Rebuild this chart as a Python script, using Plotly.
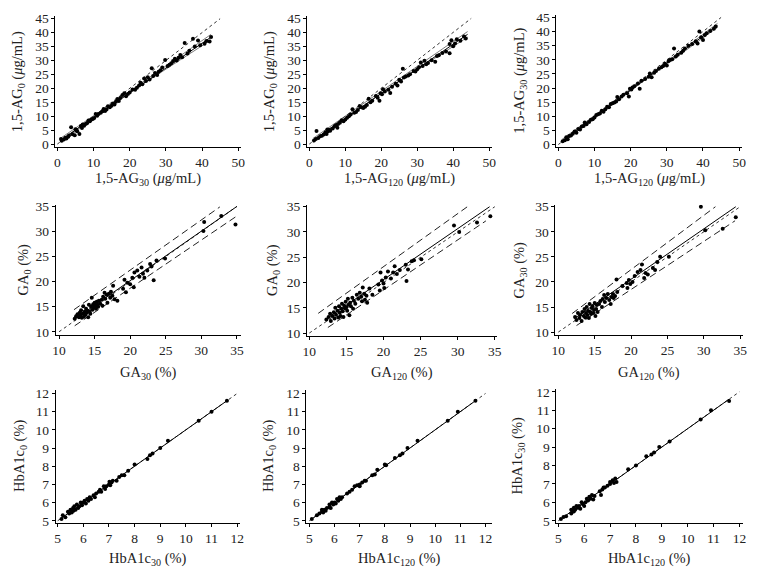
import plotly.graph_objects as go

# ---------------- data ----------------
# Row 1: 1,5-AG (ug/mL)
ag30_vs_ag0_x = [1.0,1.2,1.8,2.2,2.5,3.0,3.2,3.8,4.2,5.0,4.8,5.2,5.5,6.1,6.5,6.8,7.0,7.4,7.8,8.2,8.6,9.0,9.4,9.8,10.2,10.6,11.0,11.4,12.0,12.5,12.8,13.2,13.6,14.0,14.5,15.0,15.4,15.8,16.2,16.6,17.0,17.4,18.0,18.5,19.0,19.5,20.0,20.8,21.5,22.0,22.6,23.0,23.5,24.0,24.5,25.0,25.5,26.1,26.5,27.0,27.6,28.0,28.5,29.0,29.8,30.5,31.0,31.5,32.0,32.5,33.0,33.5,34.0,34.5,35.2,36.0,36.5,37.5,38.0,38.9,39.5,40.7,41.2,42.1,42.5]
ag30_vs_ag0_y = [1.8,1.2,1.6,2.3,2.0,2.6,3.1,6.0,3.5,5.3,3.2,4.9,4.6,3.6,6.5,5.8,7.0,6.6,7.2,7.5,8.5,8.2,8.8,9.0,9.4,10.8,10.2,10.8,11.2,11.8,12.6,11.9,12.4,13.6,13.2,13.8,14.6,14.2,15.2,16.2,15.5,16.5,17.6,18.2,17.2,18.0,18.5,19.6,19.5,20.2,21.0,22.0,21.5,23.5,22.6,24.0,23.2,27.2,24.4,25.5,24.8,26.0,26.5,27.5,30.2,28.0,28.5,29.0,29.8,30.6,30.0,31.0,32.0,31.2,36.3,32.5,33.5,37.8,35.0,37.2,35.5,36.0,37.0,36.8,38.4]
ag120_vs_ag0_x = [1.3,1.8,2.0,2.5,3.0,3.5,4.0,4.5,4.8,5.0,5.2,5.5,5.8,6.5,7.0,7.5,7.8,8.0,8.5,9.0,9.5,10.0,10.5,11.0,11.5,12.0,12.5,13.0,13.5,14.0,14.5,15.0,15.5,16.0,16.5,17.0,17.5,18.5,19.0,19.5,19.8,20.2,20.5,21.0,22.0,22.5,23.0,24.0,24.5,25.0,25.5,26.0,26.3,26.8,27.5,28.0,29.0,29.5,30.0,30.5,31.0,31.5,32.0,32.5,33.0,34.0,35.0,35.5,36.0,37.0,38.0,39.0,39.0,39.5,40.0,40.5,41.0,42.0,43.0,43.5]
ag120_vs_ag0_y = [1.3,1.8,4.7,2.2,2.8,3.0,3.4,4.2,3.6,5.2,4.6,5.0,4.8,5.6,6.4,6.8,5.8,7.2,7.6,8.5,8.2,8.8,9.4,10.0,10.6,12.5,11.2,11.5,12.2,13.6,13.2,12.9,13.4,14.0,16.2,15.0,15.5,17.2,16.6,15.5,18.2,17.8,19.6,18.8,19.5,18.3,20.5,21.6,21.0,23.0,22.4,27.0,23.8,24.2,24.6,25.0,26.2,26.0,26.8,27.5,29.2,28.0,29.8,28.6,29.0,30.0,29.5,31.5,31.8,32.6,33.2,32.5,35.8,37.2,35.0,36.0,37.5,37.0,38.5,37.8]
ag120_vs_ag30_x = [1.2,1.8,2.2,2.6,3.0,3.5,4.0,4.5,5.0,5.5,6.0,6.5,7.0,7.3,7.8,8.5,9.0,9.5,10.0,10.5,11.0,11.5,12.0,12.5,13.0,13.5,14.0,14.5,15.0,15.5,16.0,16.3,16.8,17.5,18.0,19.0,19.5,19.8,20.2,20.5,21.0,22.0,22.5,23.0,24.0,25.0,25.3,25.8,26.5,27.0,27.8,28.5,29.0,29.5,30.0,30.5,31.0,31.5,32.0,32.5,33.0,34.0,34.5,35.0,36.0,37.0,38.0,38.5,39.0,39.5,40.0,40.5,41.0,42.0,43.0,43.5]
ag120_vs_ag30_y = [1.2,1.5,2.6,1.9,3.0,3.2,3.8,4.6,4.2,5.5,5.3,6.4,6.6,7.8,7.2,8.0,8.8,9.0,9.6,10.5,10.7,11.0,12.0,11.6,12.5,13.4,13.2,14.4,14.6,14.9,15.2,16.8,16.0,17.0,17.6,18.2,17.0,19.8,19.5,20.2,20.6,21.6,19.8,22.6,23.2,24.0,25.2,23.8,25.4,26.0,26.8,27.4,27.8,28.6,28.0,29.6,30.0,30.2,34.0,31.2,31.8,32.5,33.2,34.0,35.0,35.6,36.6,35.8,40.0,38.0,37.0,38.8,39.4,40.2,41.0,41.8]

# Row 2: GA (%)
ga30_vs_ga0_x = [12.2,12.4,12.6,12.8,12.9,13.0,13.1,13.2,13.3,13.4,13.5,13.6,13.7,13.8,13.9,14.0,14.1,14.2,14.3,14.4,14.5,14.6,14.7,14.8,14.9,15.0,15.1,15.2,15.3,15.4,15.5,15.6,15.8,16.0,16.1,16.2,16.4,16.5,16.7,16.8,17.0,17.2,17.3,17.5,17.6,17.8,18.2,19.0,19.2,19.4,19.6,20.0,20.3,20.5,20.6,21.0,21.3,21.6,21.8,22.0,22.4,22.8,23.0,23.3,23.7,24.9,30.3,30.4,32.8,34.8]
ga30_vs_ga0_y = [12.6,13.1,13.5,12.9,13.8,13.2,14.3,12.8,13.6,15.1,13.0,14.0,13.4,14.6,13.8,14.2,12.9,15.4,14.0,13.6,15.0,16.8,14.4,15.5,14.8,15.8,15.2,14.6,16.0,15.4,15.0,16.2,15.6,16.4,15.2,17.0,17.8,16.6,17.4,15.8,17.6,16.8,18.0,17.2,19.2,16.5,16.2,18.6,20.4,17.9,19.8,19.5,20.8,18.9,21.8,22.2,21.0,22.8,21.6,20.8,22.2,23.5,23.0,20.3,24.2,24.6,30.1,31.9,33.1,31.4]
ga120_vs_ga0_x = [12.3,12.6,12.8,12.9,13.1,13.3,13.4,13.5,13.6,13.8,13.9,14.0,14.1,14.2,14.3,14.4,14.5,14.6,14.7,14.8,14.9,15.0,15.1,15.2,15.3,15.4,15.5,15.6,15.8,15.9,16.0,16.2,16.4,16.6,16.8,17.0,17.1,17.2,17.4,17.5,17.7,17.8,18.1,18.5,19.3,19.5,19.6,19.8,20.0,20.1,20.3,20.6,21.0,21.3,21.5,21.8,22.2,23.0,23.1,23.3,23.8,24.1,25.1,29.5,30.2,32.6,34.4]
ga120_vs_ga0_y = [12.7,13.2,13.8,12.4,13.4,14.1,12.9,15.0,13.6,14.4,13.1,15.3,14.0,13.4,14.8,15.8,14.3,13.2,15.4,14.9,16.2,15.1,14.4,16.8,15.6,13.5,16.0,15.3,17.0,14.8,16.4,15.8,17.6,16.8,18.0,17.2,16.3,19.0,17.8,16.6,17.4,16.0,18.8,17.6,19.6,18.4,22.0,20.4,19.8,18.9,21.0,22.2,20.8,22.0,23.2,21.7,22.5,23.5,20.3,22.6,24.2,24.4,24.6,31.3,30.0,31.9,33.1]
ga120_vs_ga30_x = [12.3,12.5,12.7,12.9,13.0,13.2,13.3,13.5,13.6,13.7,13.8,13.9,14.0,14.1,14.2,14.3,14.4,14.5,14.6,14.7,14.8,14.9,15.0,15.1,15.2,15.3,15.4,15.6,15.8,16.0,16.1,16.3,16.4,16.6,16.8,17.0,17.2,17.3,17.5,17.6,17.8,18.0,18.1,18.8,19.4,19.5,19.7,19.9,20.2,20.5,20.9,21.3,21.5,21.8,22.0,22.3,23.0,23.3,23.6,24.0,25.2,29.6,30.2,32.6,34.4]
ga120_vs_ga30_y = [13.0,12.4,13.8,12.8,13.4,12.2,14.0,13.2,14.6,12.9,13.8,15.0,13.4,14.2,12.8,15.6,14.0,13.6,14.8,15.2,13.8,14.4,15.8,13.2,14.6,15.4,14.0,15.6,16.2,15.0,16.6,17.4,16.0,16.8,17.6,16.4,15.6,17.0,17.6,16.8,17.2,20.5,18.0,19.2,19.8,18.8,20.4,19.6,20.0,21.2,22.0,22.4,23.5,20.8,21.8,21.5,22.8,22.4,24.0,25.0,25.0,35.0,30.3,30.6,32.9]

# Row 3: HbA1c (%)
hb30_vs_hb0_x = [5.15,5.2,5.3,5.4,5.45,5.5,5.55,5.6,5.62,5.65,5.7,5.75,5.8,5.85,5.9,5.95,6.0,6.05,6.1,6.15,6.2,6.25,6.3,6.4,6.45,6.5,6.6,6.65,6.7,6.8,6.85,6.9,7.0,7.02,7.05,7.1,7.15,7.3,7.4,7.5,7.6,7.75,8.0,8.5,8.6,8.7,9.0,9.3,10.5,11.0,11.6]
hb30_vs_hb0_y = [5.1,5.3,5.2,5.5,5.4,5.6,5.45,5.7,5.55,5.8,5.6,5.9,5.7,5.8,6.0,5.85,6.0,6.1,5.95,6.2,6.1,6.3,6.2,6.4,6.3,6.5,6.6,6.7,6.6,6.9,6.75,6.9,7.0,7.15,6.95,7.1,7.2,7.2,7.4,7.5,7.5,7.75,8.1,8.4,8.6,8.7,9.0,9.4,10.5,11.0,11.6]
hb120_vs_hb0_x = [5.1,5.3,5.4,5.5,5.5,5.55,5.6,5.65,5.7,5.8,5.8,5.85,5.9,5.95,6.0,6.05,6.1,6.15,6.2,6.25,6.3,6.5,6.6,6.7,6.8,6.9,7.0,7.0,7.1,7.2,7.25,7.5,7.6,7.7,8.0,8.05,8.4,8.6,8.7,8.9,9.3,10.5,10.9,11.6]
hb120_vs_hb0_y = [5.1,5.3,5.4,5.6,5.5,5.45,5.6,5.55,5.7,5.9,5.75,5.7,6.0,5.9,6.0,5.95,6.2,6.1,6.3,6.2,6.3,6.5,6.6,6.7,6.9,6.95,6.9,7.0,7.1,7.2,7.2,7.5,7.55,7.8,8.1,8.05,8.45,8.6,8.7,9.0,9.4,10.5,11.0,11.6]
hb120_vs_hb30_x = [5.1,5.2,5.3,5.5,5.5,5.55,5.6,5.6,5.65,5.7,5.75,5.8,5.85,5.9,5.95,6.0,6.05,6.1,6.15,6.2,6.25,6.3,6.35,6.4,6.6,6.65,6.7,6.75,6.8,6.9,7.0,7.0,7.1,7.15,7.2,7.25,7.7,8.0,8.4,8.6,8.7,8.9,9.3,10.5,10.9,11.6]
hb120_vs_hb30_y = [5.1,5.2,5.25,5.6,5.4,5.5,5.7,5.5,5.6,5.8,5.7,5.8,5.65,6.0,5.9,5.8,6.0,6.2,6.1,6.3,6.2,6.4,6.15,6.35,6.6,6.4,6.7,6.8,6.8,6.9,7.0,7.1,7.2,7.05,7.3,7.1,7.8,8.0,8.5,8.6,8.7,9.0,9.3,10.5,11.0,11.5]

# regression / reference lines (endpoints)
fit_x = [[1.0, 42.5], [1.0, 44.0], [1.0, 44.0],
         [12.2, 35.0], [12.1, 34.3], [12.2, 34.4],
         [5.1, 11.6], [5.1, 11.6], [5.1, 11.6]]
fit_y = [[1.5, 38.4], [1.3, 39.3], [1.2, 42.2],
         [12.5, 35.0], [12.6, 35.0], [12.7, 35.0],
         [5.1, 11.6], [5.1, 11.6], [5.1, 11.6]]
# confidence lines for row 1 (start, middle, end)
ci_x = [[1.0, 21.0, 42.5], [1.0, 22.0, 44.0], [1.0, 22.0, 44.0]]
ci_up_y = [[2.2, 19.9, 39.4], [2.0, 20.8, 40.3], [1.8, 21.6, 42.9]]
ci_lo_y = [[0.8, 19.3, 37.4], [0.6, 20.1, 38.3], [0.6, 21.0, 41.5]]
# prediction (dashed) lines for row 2
pi_up_x = [[12.1, 32.6], [11.2, 31.3], [11.9, 31.6]]
pi_up_y = [[14.4, 34.9], [13.9, 35.0], [13.7, 35.0]]
pi_lo_x = [[12.2, 34.9], [12.5, 33.8], [12.5, 34.3]]
pi_lo_y = [[11.2, 33.0], [11.1, 32.2], [11.3, 32.2]]
# identity lines
ident = [[0, 45], [0, 45], [0, 45], [10, 35], [10, 35], [10, 35], [5, 12], [5, 12], [5, 12]]

x_titles = ["1,5-AG<sub>30</sub> (<i>μ</i>g/mL)", "1,5-AG<sub>120</sub> (<i>μ</i>g/mL)", "1,5-AG<sub>120</sub> (<i>μ</i>g/mL)",
            "GA<sub>30</sub> (%)", "GA<sub>120</sub> (%)", "GA<sub>120</sub> (%)",
            "HbA1c<sub>30</sub> (%)", "HbA1c<sub>120</sub> (%)", "HbA1c<sub>120</sub> (%)"]
y_titles = ["1,5-AG<sub>0</sub> (<i>μ</i>g/mL)", "1,5-AG<sub>0</sub> (<i>μ</i>g/mL)", "1,5-AG<sub>30</sub> (<i>μ</i>g/mL)",
            "GA<sub>0</sub> (%)", "GA<sub>0</sub> (%)", "GA<sub>30</sub> (%)",
            "HbA1c<sub>0</sub> (%)", "HbA1c<sub>0</sub> (%)", "HbA1c<sub>30</sub> (%)"]

xs = [ag30_vs_ag0_x, ag120_vs_ag0_x, ag120_vs_ag30_x,
      ga30_vs_ga0_x, ga120_vs_ga0_x, ga120_vs_ga30_x,
      hb30_vs_hb0_x, hb120_vs_hb0_x, hb120_vs_hb30_x]
ys = [ag30_vs_ag0_y, ag120_vs_ag0_y, ag120_vs_ag30_y,
      ga30_vs_ga0_y, ga120_vs_ga0_y, ga120_vs_ga30_y,
      hb30_vs_hb0_y, hb120_vs_hb0_y, hb120_vs_hb30_y]

# ---------------- layout geometry (pixels) ----------------
W, H = 757, 577
# per panel: x calib (v1,p1,v2,p2), x axis px (left,right); y calib (v1,p1,v2,p2), y axis px (bottom,top)
geom = [
    ((0, 54, 50, 237), (52, 240), (0, 141, 45, 13), (144, 10)),
    ((0, 309, 50, 491), (307, 494), (0, 141, 45, 12.7), (144, 10)),
    ((0, 561, 50, 744), (559, 747), (0, 141.5, 45, 11.7), (144, 9)),
    ((10, 55.7, 35, 235.7), (52.3, 240), (10, 332.7, 35, 204.7), (335.7, 203)),
    ((10, 309, 35, 496.7), (306.7, 499), (10, 334, 35, 205), (336.5, 203)),
    ((10, 561, 35, 745), (558, 748), (10, 333, 35, 205), (335.7, 203)),
    ((5, 54.3, 12, 236), (52.3, 239), (5, 525.7, 12, 395.7), (527.5, 392)),
    ((5, 309, 12, 487.3), (306, 494), (5, 525.7, 12, 395.7), (527.5, 392)),
    ((5, 561, 12, 744.3), (559, 748), (5, 525.7, 12, 394), (527.5, 391)),
]
dticks = [(10, 5)] * 3 + [(5, 5)] * 3 + [(1, 1)] * 3
ytitle_px = [15, 270, 522, 20, 272, 522, 16, 268, 520]
xtitle_py = [176.5, 176.5, 176.5, 374.5, 374.5, 374.5, 565, 565, 565]


def rng(cal, a, b):
    v1, p1, v2, p2 = cal
    s = (p2 - p1) / (v2 - v1)
    return [v1 + (a - p1) / s, v1 + (b - p1) / s]


FONT = "Liberation Serif"
fig = go.Figure()
layout = dict(width=W, height=H, margin=dict(l=0, r=0, t=0, b=0),
              paper_bgcolor="white", plot_bgcolor="white", showlegend=False,
              font=dict(family=FONT, size=13, color="#222"))
annotations = []

for i in range(9):
    k = "" if i == 0 else str(i + 1)
    xa, ya = "x" + k, "y" + k
    xcal, (xl, xr), ycal, (yb, yt) = geom[i]
    dx, dy = dticks[i]
    common = dict(showline=True, linecolor="black", linewidth=1, ticks="outside",
                  ticklen=3, tickwidth=1, tickcolor="black", showgrid=False, zeroline=False,
                  tickfont=dict(family=FONT, size=13.5, color="#222"))
    layout["xaxis" + k] = dict(domain=[xl / W, xr / W], range=rng(xcal, xl, xr),
                               anchor=ya, dtick=dx, tick0=0, **common)
    layout["yaxis" + k] = dict(domain=[1 - yb / H, 1 - yt / H], range=rng(ycal, yb, yt),
                               anchor=xa, dtick=dy, tick0=0, **common)

    # identity line (dotted)
    fig.add_trace(go.Scatter(x=ident[i], y=ident[i], mode="lines", xaxis=xa, yaxis=ya,
                             line=dict(color="#333", width=1, dash="dot"), hoverinfo="skip"))
    if i < 3:
        for cy in (ci_up_y[i], ci_lo_y[i]):
            fig.add_trace(go.Scatter(x=ci_x[i], y=cy, mode="lines", xaxis=xa, yaxis=ya,
                                     line=dict(color="#444", width=0.7), hoverinfo="skip"))
    elif i < 6:
        j = i - 3
        fig.add_trace(go.Scatter(x=pi_up_x[j], y=pi_up_y[j], mode="lines", xaxis=xa, yaxis=ya,
                                 line=dict(color="#222", width=1, dash="7px,4px"), hoverinfo="skip"))
        fig.add_trace(go.Scatter(x=pi_lo_x[j], y=pi_lo_y[j], mode="lines", xaxis=xa, yaxis=ya,
                                 line=dict(color="#222", width=1, dash="7px,4px"), hoverinfo="skip"))
    fig.add_trace(go.Scatter(x=fit_x[i], y=fit_y[i], mode="lines", xaxis=xa, yaxis=ya,
                             line=dict(color="black", width=1), hoverinfo="skip"))
    fig.add_trace(go.Scatter(x=xs[i], y=ys[i], mode="markers", xaxis=xa, yaxis=ya,
                             marker=dict(color="black", size=4, line=dict(width=0))))

    annotations.append(dict(text=x_titles[i], x=(xl + xr) / 2 / W, y=1 - xtitle_py[i] / H,
                            xref="paper", yref="paper", showarrow=False, xanchor="center",
                            yanchor="middle", font=dict(family=FONT, size=14.5, color="#222")))
    annotations.append(dict(text=y_titles[i], x=ytitle_px[i] / W, y=1 - (yb + yt) / 2 / H,
                            xref="paper", yref="paper", showarrow=False, textangle=-90,
                            xanchor="center", yanchor="middle",
                            font=dict(family=FONT, size=14.5, color="#222")))

layout["annotations"] = annotations
fig.update_layout(**layout)
fig.write_html("out.html", config={"displayModeBar": False},
               post_script="document.body.style.margin='0';document.body.style.overflow='hidden';")
